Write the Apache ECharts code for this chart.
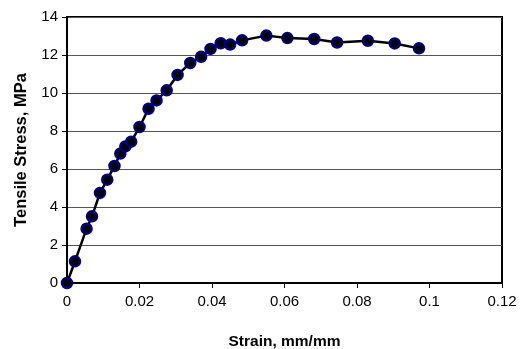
<!DOCTYPE html>
<html><head><meta charset="utf-8">
<script src="https://cdn.jsdelivr.net/npm/echarts@6/dist/echarts.min.js"></script>
<style>html,body{margin:0;padding:0;background:#fff}#c{width:521px;height:349px}</style>
</head><body><div id="c"></div>
<script>
var strain = [0, 0.0022, 0.0054, 0.0069, 0.0091, 0.0111, 0.0131, 0.0147, 0.0161, 0.0177, 0.0200, 0.0225, 0.0247, 0.0275, 0.0305, 0.0340, 0.0370, 0.0396, 0.0424, 0.0450, 0.0483, 0.0550, 0.0608, 0.0682, 0.0745, 0.0830, 0.0904, 0.0971];
var stress = [0, 1.14, 2.86, 3.51, 4.74, 5.44, 6.16, 6.81, 7.19, 7.44, 8.21, 9.17, 9.61, 10.14, 10.95, 11.58, 11.91, 12.32, 12.62, 12.55, 12.77, 13.02, 12.89, 12.84, 12.66, 12.75, 12.61, 12.35];
var xTitle = 'Strain, mm/mm';
var yTitle = 'Tensile Stress, MPa';

var pts = strain.map(function (s, i) { return [s, stress[i]]; });
var chart = echarts.init(document.getElementById('c'));
var font = 'Liberation Sans, Arial, sans-serif';
chart.setOption({
  animation: false,
  backgroundColor: '#fff',
  grid: { left: 67, right: 19, top: 17, bottom: 66, show: true, borderColor: '#000', borderWidth: 2,
    backgroundColor: 'transparent', containLabel: false, outerBoundsMode: 'none' },
  xAxis: {
    type: 'value', min: 0, max: 0.12, interval: 0.02,
    name: xTitle, nameLocation: 'middle', nameGap: 51,
    nameTextStyle: { fontFamily: font, fontSize: 15.5, fontWeight: 'bold', color: '#000' },
    axisLine: { lineStyle: { color: '#000', width: 2 } },
    axisTick: { show: true, inside: false, length: 5, lineStyle: { color: '#000', width: 1 } },
    axisLabel: { fontFamily: font, fontSize: 15, color: '#000', margin: 11,
      formatter: function (v) { return String(+v.toFixed(2)); } },
    splitLine: { show: false }
  },
  yAxis: {
    type: 'value', min: 0, max: 14, interval: 2,
    name: yTitle, nameLocation: 'middle', nameGap: 37,
    nameTextStyle: { fontFamily: font, fontSize: 16.5, fontWeight: 'bold', color: '#000' },
    axisLine: { show: true, lineStyle: { color: '#000', width: 2 } },
    axisTick: { show: true, inside: false, length: 5, lineStyle: { color: '#000', width: 1 } },
    axisLabel: { fontFamily: font, fontSize: 15, color: '#000', margin: 9 },
    splitLine: { show: true, lineStyle: { color: '#555', width: 1 } }
  },
  series: [{
    type: 'line', data: pts, smooth: false,
    lineStyle: { color: '#000', width: 2.5 },
    symbol: 'circle', symbolSize: 10,
    itemStyle: { color: '#000', borderColor: '#000080', borderWidth: 2.5 }
  }]
});
</script>
</body></html>
